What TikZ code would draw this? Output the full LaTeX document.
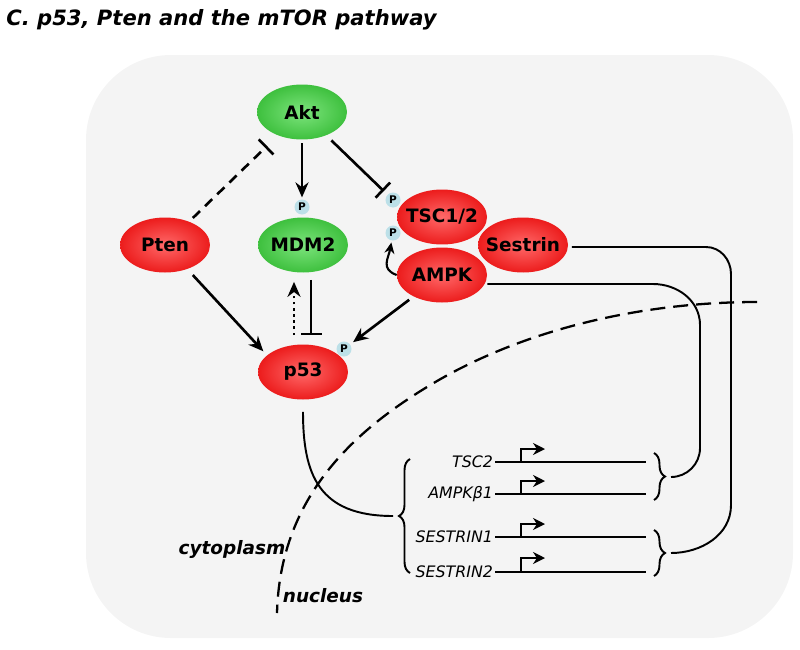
\documentclass[tikz,border=0pt]{standalone}
\usepackage{fontspec}
\setmainfont{DejaVu Sans}
\usetikzlibrary{positioning,arrows.meta,shapes.geometric,decorations.pathreplacing}
\definecolor{protred}{RGB}{236,28,28}
\definecolor{protredlt}{RGB}{255,105,105}
\definecolor{protgreen}{RGB}{62,192,62}
\definecolor{protgreenlt}{RGB}{125,228,125}
\definecolor{phosblue}{RGB}{188,224,232}
\definecolor{cellgray}{RGB}{244,244,244}
\tikzset{
prot/.style={ellipse,minimum width=1.8cm,minimum height=1.1cm,inner ysep=0pt,inner xsep=-0.25cm,
font=\bfseries\fontsize{10.5}{12}\selectfont},
red prot/.style={prot,shading=radial,inner color=protredlt,outer color=protred},
green prot/.style={prot,shading=radial,inner color=protgreenlt,outer color=protgreen},
psite/.style={circle,fill=phosblue,inner sep=0pt,minimum size=0.3cm,
font=\bfseries\fontsize{6}{6}\selectfont},
act/.style={-{Stealth[length=0.3cm,width=0.26cm]},line width=1.5pt},
inh/.style={-{Bar[width=0.42cm]},line width=1.5pt},
link/.style={line width=1.1pt},
gene/.style={font=\itshape\fontsize{9}{10}\selectfont,inner sep=1pt},
prom/.style={-{Stealth[length=0.24cm,width=0.24cm]},line width=1.1pt},
brc/.style={decorate,decoration={brace,amplitude=0.22cm},line width=1.1pt},
compart/.style={font=\bfseries\itshape\fontsize{10.5}{12}\selectfont}
}

\begin{document}
\begin{tikzpicture}[x=0.02cm,y=-0.02cm]
\useasboundingbox (0,0) rectangle (800,649);

\node[font=\bfseries\itshape\fontsize{12}{14}\selectfont,anchor=base west,inner sep=0pt] (title) at (6,25) {C. p53, Pten and the mTOR pathway};

\fill[cellgray,rounded corners=1.7cm] (86,55) rectangle (793,638);

% membrane
\draw[line width=1.3pt,dash pattern=on 0.3cm off 0.16cm] (757,302) .. controls (640,302) and (520,330) .. (427,387) .. controls (350,434) and (280,500) .. (277,613);
\node[compart] (cyto) at (232,549) {cytoplasm};
\node[compart] (nucl) at (323,596) {nucleus};

\node[green prot] (akt) at (302,112) {Akt};
\node[green prot] (mdm2) at (303,245) {MDM2};
\node[red prot] (pten) at (165,245) {Pten};
\node[red prot] (p53) at (303,372) {p53};
\node[red prot] (tsc) at (442,217) {TSC1/2};
\node[red prot] (sestrin) at (523,245) {Sestrin};
\node[red prot] (ampk) at (442,275) {AMPK};

\node[psite] (pmdm) at (302,207) {P};
\node[psite] (ptsca) at (393,200) {P};
\node[psite] (ptscb) at (393,233) {P};
\node[psite] (pp53) at (344,349) {P};

\draw[act,shorten <=2pt,shorten >=1pt] (akt) -- (pmdm);
\draw[inh,shorten <=4pt,shorten >=0.1cm] (akt) -- (ptsca);
\draw[inh,dash pattern=on 0.2cm off 0.14cm,shorten <=0.1cm,shorten >=0.3cm] (pten) -- (akt);
\draw[act,shorten <=0.16cm,shorten >=3pt] (pten) -- (p53.155);
\draw[inh,shorten <=0.14cm,shorten >=0.18cm] ([xshift=0.16cm]mdm2.south) -- ([xshift=0.16cm]p53.north);
\draw[act,dotted,shorten <=0.18cm,shorten >=0.18cm] ([xshift=-0.18cm]p53.north) -- ([xshift=-0.18cm]mdm2.south);
\draw[act,shorten <=3pt,shorten >=2pt] (ampk) -- (pp53);
\draw[-{Stealth[length=0.22cm,width=0.2cm]},line width=1.2pt,shorten >=1pt] (ampk.west) to[out=160,in=-100,looseness=1.3] (ptscb);

% genes
\node[gene,anchor=east] (tsc2) at (495,462) {TSC2};
\node[gene,anchor=east] (ampkb) at (495,494) {AMPKβ1};
\node[gene,anchor=east] (sesn1) at (495,537) {SESTRIN1};
\node[gene,anchor=east] (sesn2) at (495,572) {SESTRIN2};
\draw[link] (tsc2.east) -- (646,462);
\draw[link] (ampkb.east) -- (646,494);
\draw[link] (sesn1.east) -- (646,537);
\draw[link] (sesn2.east) -- (646,572);
\draw[prom] (521,462) -- ++(0,-13) -- ++(24,0);
\draw[prom] (521,494) -- ++(0,-13) -- ++(24,0);
\draw[prom] (521,537) -- ++(0,-13) -- ++(24,0);
\draw[prom] (521,572) -- ++(0,-14) -- ++(24,0);

\draw[brc] (410,573) -- (410,459);
\draw[brc] (654,453) -- (654,500);
\draw[brc] (654,530) -- (654,576);
\coordinate (tipl) at (393,516);
\coordinate (tipa) at (671,477);
\coordinate (tipb) at (671,553);

\draw[link,shorten <=0.24cm] (p53.south) to[out=-90,in=180,looseness=1.3] (tipl);
\draw[link] ([yshift=-0.18cm]ampk.east) -- (653,284) to[out=0,in=90] (700,325) -- (700,448) to[out=-90,in=0] (tipa);
\draw[link,shorten <=2pt] ([yshift=-0.04cm]sestrin.east) -- (706,247) to[out=0,in=90] (731,274) -- (731,505) to[out=-90,in=0] (tipb);

\end{tikzpicture}
\end{document}
